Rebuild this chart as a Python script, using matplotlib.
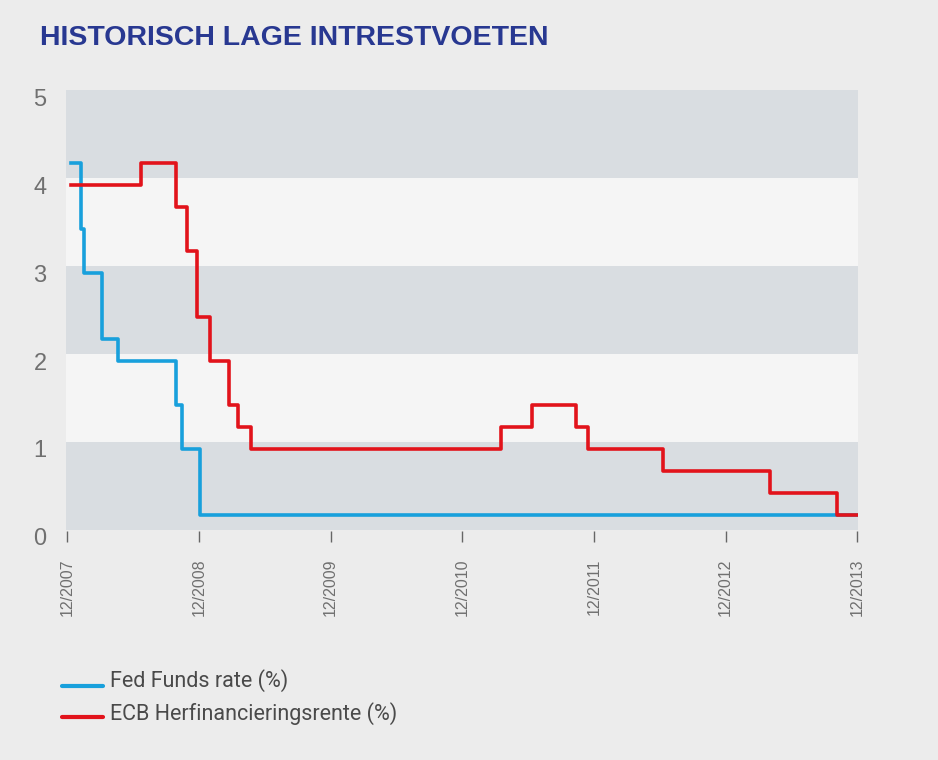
import numpy as np
import matplotlib
matplotlib.use("Agg")
import matplotlib.pyplot as plt
from matplotlib.lines import Line2D

# rate changes (date the new rate starts, rate in %)
fed_dates = ["2007-12-11", "2008-01-09", "2008-01-17", "2008-03-07", "2008-04-20",
             "2008-09-27", "2008-10-15", "2008-12-03", "2013-12-02"]
fed_rates = [4.25, 3.5, 3.0, 2.25, 2.0, 1.5, 1.0, 0.25, 0.25]

ecb_dates = ["2007-12-11", "2008-06-24", "2008-09-27", "2008-10-28", "2008-11-25",
             "2008-12-31", "2009-02-22", "2009-03-19", "2009-04-24", "2011-03-19",
             "2011-06-14", "2011-10-14", "2011-11-16", "2012-06-09", "2013-04-02",
             "2013-10-07", "2013-12-02"]
ecb_rates = [4.0, 4.25, 3.75, 3.25, 2.5, 2.0, 1.5, 1.25, 1.0, 1.25,
             1.5, 1.25, 1.0, 0.75, 0.5, 0.25, 0.25]

tick_years = [2007, 2008, 2009, 2010, 2011, 2012, 2013]
y_ticks = [0, 1, 2, 3, 4, 5]

labels = ["Fed Funds rate (%)", "ECB Herfinancieringsrente (%)"]
fed_color = "#18a0dc"
ecb_color = "#e2131b"

fig = plt.figure(figsize=(9.38, 7.6), dpi=100)
fig.patch.set_facecolor("#ececec")
ax = fig.add_axes([66 / 938, 1 - 542 / 760, 792 / 938, 452 / 760])
ax.set_facecolor("none")

# horizontal bands (sit slightly above the integer values, as in the source)
for k in range(5):
    ax.axhspan(k + 0.08, k + 1.08, color="#d9dde1" if k % 2 == 0 else "#f5f5f5",
               lw=0, zorder=0)

fd = [np.datetime64(d) for d in fed_dates]
ed = [np.datetime64(d) for d in ecb_dates]
ax.plot(fd, fed_rates, drawstyle="steps-post", color=fed_color, lw=2.6, zorder=2)
ax.plot(ed, ecb_rates, drawstyle="steps-post", color=ecb_color, lw=2.6, zorder=3)

ax.set_xlim(np.datetime64("2007-11-28"), np.datetime64("2013-12-03"))
ax.set_ylim(-0.057, 5.08)

ax.set_xticks([np.datetime64(f"{y}-12-01") for y in tick_years])
ax.set_xticklabels([f"12/{y}" for y in tick_years], rotation=90,
                   family="Liberation Sans", fontsize=11.5, color="#707070")
ax.tick_params(axis="x", direction="in", length=8, width=1, color="#666666", pad=12)

ax.set_yticks(y_ticks)
ax.set_yticklabels([str(v) for v in y_ticks], family="Liberation Sans",
                   fontsize=17, color="#707070")
ax.tick_params(axis="y", length=0, pad=14)

for s in ax.spines.values():
    s.set_visible(False)

fig.text(40 / 938, 1 - 38 / 760, "HISTORISCH LAGE INTRESTVOETEN", family="Liberation Sans",
         fontweight="bold", fontsize=20.5, color="#283891", va="center", ha="left")

# legend
for i, (lab, c) in enumerate(zip(labels, [fed_color, ecb_color])):
    yy = 1 - (686 + 31 * i) / 760
    fig.add_artist(Line2D([62 / 938, 103 / 938], [yy, yy], color=c, lw=3,
                          solid_capstyle="round", transform=fig.transFigure))
    fig.text(110 / 938, 1 - (681 + 33 * i) / 760, lab, family="Roboto",
             fontsize=15.5, color="#4a4a4a", va="center", ha="left")

fig.savefig("out.png", dpi=100, facecolor=fig.get_facecolor())
